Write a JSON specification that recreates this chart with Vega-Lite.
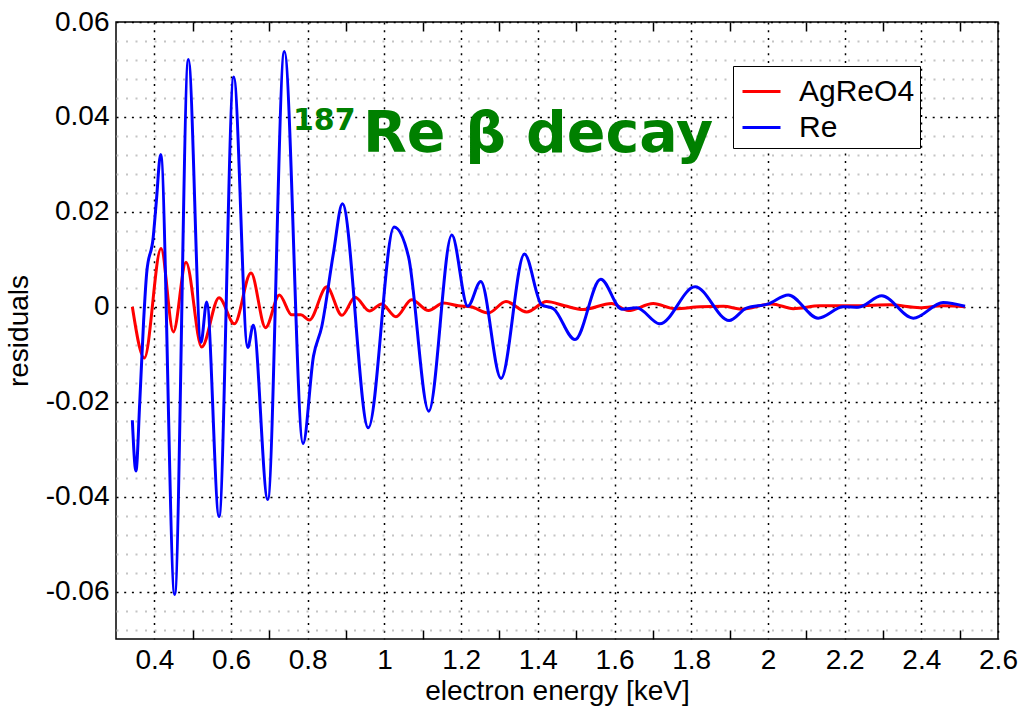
{
  "$schema": "https://vega.github.io/schema/vega-lite/v6.json",
  "width": 882,
  "height": 617,
  "autosize": "none",
  "padding": {"left": 116, "top": 22, "right": 23, "bottom": 69},
  "background": "white",
  "config": {
    "view": {"stroke": "black", "strokeWidth": 1.5},
    "font": "Liberation Sans"
  },
  "datasets": {
    "curves": [
      {"series": "AgReO4", "energy": 0.3426, "residual": 0.0},
      {"series": "AgReO4", "energy": 0.374, "residual": -0.0108},
      {"series": "AgReO4", "energy": 0.4174, "residual": 0.0123},
      {"series": "AgReO4", "energy": 0.4496, "residual": -0.0053},
      {"series": "AgReO4", "energy": 0.4826, "residual": 0.0094},
      {"series": "AgReO4", "energy": 0.5235, "residual": -0.0085},
      {"series": "AgReO4", "energy": 0.5687, "residual": 0.0019},
      {"series": "AgReO4", "energy": 0.6087, "residual": -0.0036},
      {"series": "AgReO4", "energy": 0.652, "residual": 0.0071},
      {"series": "AgReO4", "energy": 0.69, "residual": -0.0044},
      {"series": "AgReO4", "energy": 0.726, "residual": 0.0025},
      {"series": "AgReO4", "energy": 0.758, "residual": -0.0017},
      {"series": "AgReO4", "energy": 0.782, "residual": -0.0017},
      {"series": "AgReO4", "energy": 0.804, "residual": -0.0028},
      {"series": "AgReO4", "energy": 0.8496, "residual": 0.0042},
      {"series": "AgReO4", "energy": 0.889, "residual": -0.0018},
      {"series": "AgReO4", "energy": 0.9235, "residual": 0.002},
      {"series": "AgReO4", "energy": 0.961, "residual": -0.0009},
      {"series": "AgReO4", "energy": 0.993, "residual": 0.0006},
      {"series": "AgReO4", "energy": 1.03, "residual": -0.0021},
      {"series": "AgReO4", "energy": 1.071, "residual": 0.0015},
      {"series": "AgReO4", "energy": 1.115, "residual": -0.0008},
      {"series": "AgReO4", "energy": 1.154, "residual": 0.0008},
      {"series": "AgReO4", "energy": 1.193, "residual": 0.0002},
      {"series": "AgReO4", "energy": 1.225, "residual": 0.0},
      {"series": "AgReO4", "energy": 1.271, "residual": -0.0013},
      {"series": "AgReO4", "energy": 1.317, "residual": 0.0011},
      {"series": "AgReO4", "energy": 1.371, "residual": -0.0011},
      {"series": "AgReO4", "energy": 1.423, "residual": 0.0011},
      {"series": "AgReO4", "energy": 1.47, "residual": 0.0002},
      {"series": "AgReO4", "energy": 1.518, "residual": -0.0006},
      {"series": "AgReO4", "energy": 1.592, "residual": 0.0007},
      {"series": "AgReO4", "energy": 1.636, "residual": -0.0008},
      {"series": "AgReO4", "energy": 1.701, "residual": 0.0007},
      {"series": "AgReO4", "energy": 1.758, "residual": -0.0004},
      {"series": "AgReO4", "energy": 1.823, "residual": 0.0},
      {"series": "AgReO4", "energy": 1.884, "residual": 0.0001},
      {"series": "AgReO4", "energy": 1.931, "residual": -0.0005},
      {"series": "AgReO4", "energy": 2.01, "residual": 0.0006},
      {"series": "AgReO4", "energy": 2.066, "residual": -0.0004},
      {"series": "AgReO4", "energy": 2.136, "residual": 0.0002},
      {"series": "AgReO4", "energy": 2.231, "residual": 0.0002},
      {"series": "AgReO4", "energy": 2.318, "residual": 0.0004},
      {"series": "AgReO4", "energy": 2.396, "residual": -0.0002},
      {"series": "AgReO4", "energy": 2.457, "residual": 0.0002},
      {"series": "AgReO4", "energy": 2.514, "residual": 0.0},
      {"series": "Re", "energy": 0.3426, "residual": -0.0239},
      {"series": "Re", "energy": 0.352, "residual": -0.0346},
      {"series": "Re", "energy": 0.362, "residual": -0.02},
      {"series": "Re", "energy": 0.372, "residual": -0.003},
      {"series": "Re", "energy": 0.38, "residual": 0.0071},
      {"series": "Re", "energy": 0.397, "residual": 0.0146},
      {"series": "Re", "energy": 0.405, "residual": 0.022},
      {"series": "Re", "energy": 0.4165, "residual": 0.0321},
      {"series": "Re", "energy": 0.453, "residual": -0.0606},
      {"series": "Re", "energy": 0.4887, "residual": 0.0521},
      {"series": "Re", "energy": 0.5217, "residual": -0.0075},
      {"series": "Re", "energy": 0.5365, "residual": 0.001},
      {"series": "Re", "energy": 0.5687, "residual": -0.0442},
      {"series": "Re", "energy": 0.607, "residual": 0.0484},
      {"series": "Re", "energy": 0.6435, "residual": -0.0086},
      {"series": "Re", "energy": 0.658, "residual": -0.0039},
      {"series": "Re", "energy": 0.6957, "residual": -0.0406},
      {"series": "Re", "energy": 0.739, "residual": 0.0538},
      {"series": "Re", "energy": 0.7878, "residual": -0.0288},
      {"series": "Re", "energy": 0.815, "residual": -0.0104},
      {"series": "Re", "energy": 0.8365, "residual": -0.0042},
      {"series": "Re", "energy": 0.867, "residual": 0.0113},
      {"series": "Re", "energy": 0.8904, "residual": 0.0217},
      {"series": "Re", "energy": 0.958, "residual": -0.0255},
      {"series": "Re", "energy": 1.025, "residual": 0.0168},
      {"series": "Re", "energy": 1.0626, "residual": 0.0106},
      {"series": "Re", "energy": 1.1156, "residual": -0.022},
      {"series": "Re", "energy": 1.1756, "residual": 0.0151},
      {"series": "Re", "energy": 1.2173, "residual": 0.0001},
      {"series": "Re", "energy": 1.2512, "residual": 0.0053},
      {"series": "Re", "energy": 1.304, "residual": -0.0151},
      {"series": "Re", "energy": 1.365, "residual": 0.0111},
      {"series": "Re", "energy": 1.41, "residual": 0.0004},
      {"series": "Re", "energy": 1.4407, "residual": -0.0004},
      {"series": "Re", "energy": 1.497, "residual": -0.0069},
      {"series": "Re", "energy": 1.564, "residual": 0.0058},
      {"series": "Re", "energy": 1.619, "residual": -0.0005},
      {"series": "Re", "energy": 1.658, "residual": -0.0002},
      {"series": "Re", "energy": 1.718, "residual": -0.0036},
      {"series": "Re", "energy": 1.81, "residual": 0.0042},
      {"series": "Re", "energy": 1.899, "residual": -0.0029},
      {"series": "Re", "energy": 1.944, "residual": -0.0003},
      {"series": "Re", "energy": 2.001, "residual": 0.0006},
      {"series": "Re", "energy": 2.053, "residual": 0.0025},
      {"series": "Re", "energy": 2.131, "residual": -0.0024},
      {"series": "Re", "energy": 2.197, "residual": 0.0},
      {"series": "Re", "energy": 2.236, "residual": -0.0001},
      {"series": "Re", "energy": 2.297, "residual": 0.0023},
      {"series": "Re", "energy": 2.379, "residual": -0.0024},
      {"series": "Re", "energy": 2.457, "residual": 0.0009},
      {"series": "Re", "energy": 2.514, "residual": 0.0001}
    ],
    "labels": [
      {"part": "mass", "text": "187"},
      {"part": "name", "text": "Re β decay"}
    ]
  },
  "resolve": {"axis": {"x": "independent", "y": "independent"}},
  "layer": [
    {
      "data": {"name": "curves"},
      "mark": {"type": "line", "strokeWidth": 3, "interpolate": "monotone"},
      "encoding": {
        "x": {
          "field": "energy",
          "type": "quantitative",
          "scale": {"domain": [0.3, 2.6], "nice": false, "zero": false},
          "axis": {
            "orient": "bottom",
            "values": [0.4, 0.5, 0.6, 0.7, 0.8, 0.9, 1, 1.1, 1.2, 1.3, 1.4, 1.5, 1.6, 1.7, 1.8, 1.9, 2, 2.1, 2.2, 2.3, 2.4, 2.5, 2.6],
            "labelExpr": "abs(datum.value*5 - round(datum.value*5)) < 1e-6 ? '' + datum.value : ''",
            "labelOverlap": false,
            "labelFlush": false,
            "labelBound": false,
            "labelFont": "Liberation Sans",
            "labelFontSize": 28,
            "labelColor": "black",
            "labelPadding": 16,
            "grid": true,
            "gridColor": "black",
            "gridDash": [2, 5.7],
            "gridWidth": 1.5,
            "gridOpacity": {"condition": {"test": "abs(datum.value*5 - round(datum.value*5)) < 1e-6", "value": 1}, "value": 0},
            "ticks": true,
            "tickSize": -9,
            "tickColor": "black",
            "tickWidth": 1.5,
            "tickOpacity": {"condition": {"test": "abs(datum.value*5 - round(datum.value*5)) < 1e-6", "value": 0}, "value": 1},
            "domain": false,
            "title": "electron energy [keV]",
            "titleFont": "Liberation Sans",
            "titleFontSize": 28,
            "titleFontWeight": "normal",
            "titleColor": "black",
            "titlePadding": 3
          }
        },
        "y": {
          "field": "residual",
          "type": "quantitative",
          "scale": {"domain": [-0.07, 0.06], "nice": false, "zero": false},
          "axis": {
            "orient": "left",
            "values": [-0.068, -0.064, -0.06, -0.056, -0.052, -0.048, -0.044, -0.04, -0.036, -0.032, -0.028, -0.024, -0.02, -0.016, -0.012, -0.008, -0.004, 0, 0.004, 0.008, 0.012, 0.016, 0.02, 0.024, 0.028, 0.032, 0.036, 0.04, 0.044, 0.048, 0.052, 0.056, 0.06],
            "labelExpr": "abs(datum.value*50 - round(datum.value*50)) < 1e-6 ? '' + datum.value : ''",
            "labelOverlap": false,
            "labelFlush": false,
            "labelBound": false,
            "labelFont": "Liberation Sans",
            "labelFontSize": 28,
            "labelColor": "black",
            "labelPadding": 7,
            "grid": true,
            "gridColor": {"condition": {"test": "abs(datum.value*50 - round(datum.value*50)) < 1e-6", "value": "black"}, "value": "#c4c4c4"},
            "gridDash": {"condition": {"test": "abs(datum.value*50 - round(datum.value*50)) < 1e-6", "value": [2, 5.7]}, "value": [2, 7.5]},
            "gridWidth": {"condition": {"test": "abs(datum.value*50 - round(datum.value*50)) < 1e-6", "value": 1.5}, "value": 2},
            "ticks": false,
            "tickSize": 0,
            "domain": false,
            "title": "residuals",
            "titleFont": "Liberation Sans",
            "titleFontSize": 28,
            "titleFontWeight": "normal",
            "titleColor": "black",
            "titlePadding": 12
          }
        },
        "color": {
          "field": "series",
          "type": "nominal",
          "scale": {"domain": ["AgReO4", "Re"], "range": ["#ff0000", "#0000ff"]},
          "legend": {
            "orient": "none",
            "legendX": 617,
            "legendY": 44,
            "title": null,
            "symbolType": "stroke",
            "symbolStrokeWidth": 3,
            "symbolSize": 1444,
            "symbolOffset": 3,
            "labelFont": "Liberation Sans",
            "labelFontSize": 30,
            "labelColor": "black",
            "labelOffset": 17,
            "strokeColor": "black",
            "fillColor": "white",
            "padding": 5,
            "rowPadding": 0
          }
        }
      }
    },
    {
      "data": {"name": "curves"},
      "mark": {"type": "line", "strokeOpacity": 0},
      "encoding": {
        "x": {
          "field": "energy",
          "type": "quantitative",
          "axis": {
            "orient": "top",
            "values": [0.5, 0.7, 0.9, 1.1, 1.3, 1.5, 1.7, 1.9, 2.1, 2.3, 2.5],
            "labels": false,
            "grid": false,
            "domain": false,
            "ticks": true,
            "tickSize": -9,
            "tickColor": "black",
            "tickWidth": 1.5,
            "title": null
          }
        },
        "y": {"field": "residual", "type": "quantitative", "axis": null}
      }
    },
    {
      "data": {"name": "labels"},
      "transform": [{"filter": "datum.part === 'mass'"}],
      "mark": {"type": "text", "font": "DejaVu Sans", "fontWeight": "bold", "fontSize": 30, "color": "#008000", "align": "left", "baseline": "alphabetic"},
      "encoding": {
        "text": {"field": "text"},
        "x": {"datum": 0.7615, "type": "quantitative", "axis": null},
        "y": {"datum": 0.0372, "type": "quantitative", "axis": null}
      }
    },
    {
      "data": {"name": "labels"},
      "transform": [{"filter": "datum.part === 'name'"}],
      "mark": {"type": "text", "font": "DejaVu Sans", "fontWeight": "bold", "fontSize": 57, "color": "#008000", "align": "left", "baseline": "alphabetic"},
      "encoding": {
        "text": {"field": "text"},
        "x": {"datum": 0.944, "type": "quantitative", "axis": null},
        "y": {"datum": 0.0327, "type": "quantitative", "axis": null}
      }
    }
  ]
}
